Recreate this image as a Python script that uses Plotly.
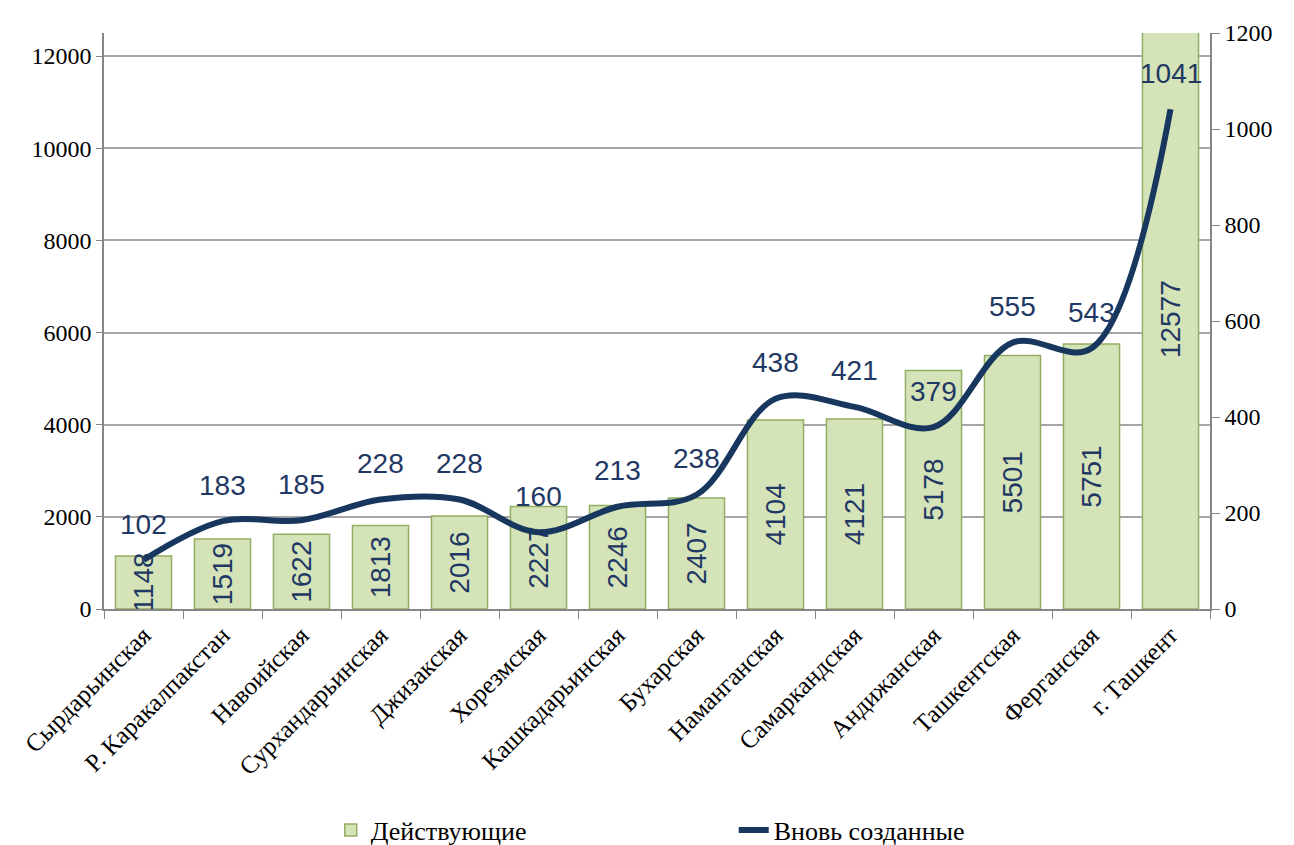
import plotly.graph_objects as go

regions = ["Сырдарьинская", "Р. Каракалпакстан", "Навоийская", "Сурхандарьинская",
           "Джизакская", "Хорезмская", "Кашкадарьинская", "Бухарская", "Наманганская",
           "Самаркандская", "Андижанская", "Ташкентская", "Ферганская", "г. Ташкент"]
active = [1148, 1519, 1622, 1813, 2016, 2227, 2246, 2407, 4104, 4121, 5178, 5501, 5751, 12577]
new_created = [102, 183, 185, 228, 228, 160, 213, 238, 438, 421, 379, 555, 543, 1041]

lbl_color = "#1F3864"
num_font = dict(family="Liberation Sans", size=28, color=lbl_color)

fig = go.Figure()
fig.add_trace(go.Bar(
    x=regions, y=active, name="Действующие",
    marker=dict(color="#D5E3B8", line=dict(color="#93AE62", width=1.5)),
    text=[str(v) for v in active], textposition="inside", insidetextanchor="middle",
    textangle=-90, constraintext="none", textfont=num_font,
))
fig.add_trace(go.Scatter(
    x=regions, y=new_created, name="Вновь созданные", yaxis="y2",
    mode="lines", line=dict(color="#17375E", width=6, shape="spline", smoothing=1.0),
))

for r, v in zip(regions, new_created):
    fig.add_annotation(x=r, y=v, yref="y2", text=str(v), showarrow=False,
                       yshift=36, font=num_font)

axis_font = dict(family="Liberation Serif", size=24, color="black")

# page body adds an 8px offset, margins compensate for it
fig.update_layout(
    width=1294, height=845,
    margin=dict(l=94, r=92, t=19, b=244),
    paper_bgcolor="white", plot_bgcolor="white",
    bargap=0.29,
    font=dict(family="Liberation Serif", size=24, color="black"),
    xaxis=dict(tickangle=-45, showline=True, linecolor="#868686", linewidth=1.5,
               ticks="outside", tickcolor="#868686", ticklen=8, tickson="boundaries",
               tickfont=dict(family="Liberation Serif", size=25, color="black")),
    yaxis=dict(range=[0, 12500], tickvals=list(range(0, 12001, 2000)), tickformat="d",
               showgrid=True, gridcolor="#A6A6A6", gridwidth=1.5, showline=True,
               linecolor="#868686", linewidth=1.5, ticks="outside", tickcolor="#868686",
               ticklen=6, zeroline=False, tickfont=axis_font),
    yaxis2=dict(range=[0, 1200], tickvals=list(range(0, 1201, 200)), tickformat="d",
                overlaying="y", side="right", showgrid=False, showline=True,
                linecolor="#868686", linewidth=1.5, ticks="outside", tickcolor="#868686",
                ticklen=8, zeroline=False, tickfont=axis_font),
    legend=dict(orientation="h", x=0.205, xanchor="left", yref="container", y=0.027,
                yanchor="middle", font=dict(family="Liberation Serif", size=26, color="black"),
                entrywidth=358, traceorder="normal"),
)

fig.write_html("out.html")
